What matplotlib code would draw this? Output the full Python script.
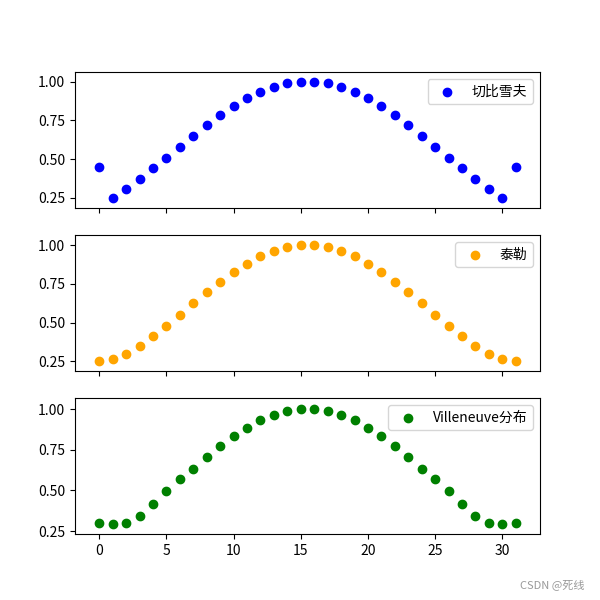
import matplotlib
matplotlib.use('Agg')
import matplotlib.pyplot as plt
from matplotlib.ticker import MultipleLocator
import numpy as np

plt.rcParams['font.family'] = ['Noto Sans CJK SC', 'DejaVu Sans']
plt.rcParams['axes.unicode_minus'] = False

x = np.arange(32)

# half of each window (index 0..15), the rest is mirrored
cheb_half = [0.449, 0.248, 0.304, 0.369, 0.441, 0.506, 0.577, 0.649,
             0.720, 0.785, 0.846, 0.898, 0.935, 0.967, 0.993, 1.000]
taylor_half = [0.250, 0.263, 0.300, 0.351, 0.412, 0.481, 0.552, 0.629,
               0.700, 0.765, 0.830, 0.881, 0.927, 0.963, 0.985, 1.000]
vill_half = [0.299, 0.293, 0.299, 0.341, 0.414, 0.494, 0.567, 0.634,
             0.707, 0.774, 0.835, 0.886, 0.933, 0.963, 0.988, 1.000]

cheb = cheb_half + cheb_half[1:][::-1] + [cheb_half[0]]
taylor = taylor_half + taylor_half[::-1]
vill = vill_half + vill_half[::-1]

labels = ['切比雪夫', '泰勒', 'Villeneuve分布']
colors = ['blue', 'orange', 'green']
ylims = [(0.185, 1.063), (0.189, 1.065), (0.232, 1.067)]

fig, axs = plt.subplots(3, 1, sharex=True, figsize=(6, 6), dpi=100)
for ax, y, lab, c, yl in zip(axs, [cheb, taylor, vill], labels, colors, ylims):
  ax.scatter(x, y, c=c, label=lab)
  ax.legend(loc='upper right')
  ax.set_ylim(yl)
  ax.yaxis.set_major_locator(MultipleLocator(0.25))
  ax.yaxis.set_major_formatter('{x:.2f}')
axs[-1].set_xlim(-1.8, 32.8)

fig.text(0.975, 0.02, 'CSDN @死线', color='#999999', fontsize=8, ha='right')
plt.savefig('out.png')
